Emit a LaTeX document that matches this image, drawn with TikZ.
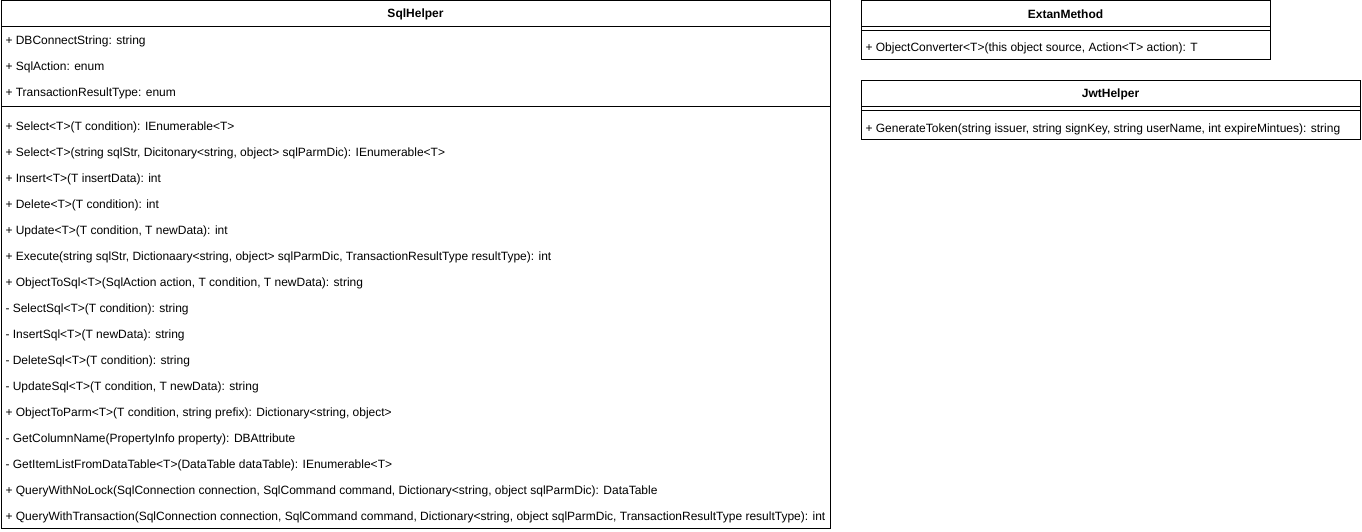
\documentclass[tikz,border=0pt]{standalone}
\usepackage{fontspec}
\setmainfont{Liberation Sans}
\usetikzlibrary{positioning}

\tikzset{
    member/.style={anchor=west, inner sep=0pt, yshift=-1pt, font=\fontsize{12}{14}\selectfont},
    classname/.style={inner sep=0pt, yshift=-0.5pt, font=\bfseries\fontsize{12}{14}\selectfont}
}

\begin{document}
\begin{tikzpicture}[x=1pt, y=-1pt, line width=1pt]
    \useasboundingbox (0,0) rectangle (1362,532);

    % SqlHelper
    \draw (1,1) rectangle (830,528);
    \draw (1,27) -- (830,27);
    \draw (1,107) -- (830,107);
    \node[classname] (sqlhelper) at (415.5,14) {SqlHelper};

    \foreach \txt [count=\i] in {{+ DBConnectString: string},
        {+ SqlAction: enum},
        {+ TransactionResultType: enum}}
    \node[member] (sqlattr\i) at (5,{40+26*(\i-1)}) {\txt};

    \foreach \txt [count=\i] in {{+ Select<T>(T condition): IEnumerable<T>},
        {+ Select<T>(string sqlStr, Dicitonary<string, object> sqlParmDic): IEnumerable<T>},
        {+ Insert<T>(T insertData): int},
        {+ Delete<T>(T condition): int},
        {+ Update<T>(T condition, T newData): int},
        {+ Execute(string sqlStr, Dictionaary<string, object> sqlParmDic, TransactionResultType resultType): int},
        {+ ObjectToSql<T>(SqlAction action, T condition, T newData): string},
        {- SelectSql<T>(T condition): string},
        {- InsertSql<T>(T newData): string},
        {- DeleteSql<T>(T condition): string},
        {- UpdateSql<T>(T condition, T newData): string},
        {+ ObjectToParm<T>(T condition, string prefix): Dictionary<string, object>},
        {- GetColumnName(PropertyInfo property): DBAttribute},
        {- GetItemListFromDataTable<T>(DataTable dataTable): IEnumerable<T>},
        {+ QueryWithNoLock(SqlConnection connection, SqlCommand command, Dictionary<string, object sqlParmDic): DataTable},
        {+ QueryWithTransaction(SqlConnection connection, SqlCommand command, Dictionary<string, object sqlParmDic, TransactionResultType resultType): int}}
    \node[member] (sqlop\i) at (5,{126+26*(\i-1)}) {\txt};

    % ExtanMethod
    \draw (861,1) rectangle (1270,60);
    \draw (861,27) -- (1270,27);
    \draw (861,31) -- (1270,31);
    \node[classname] (extanmethod) at (1065.5,14) {ExtanMethod};
    \node[member] (extanop1) at (865,47) {+ ObjectConverter<T>(this object source, Action<T> action): T};

    % JwtHelper
    \draw (861,81) rectangle (1360,140);
    \draw (861,107) -- (1360,107);
    \draw (861,111) -- (1360,111);
    \node[classname] (jwthelper) at (1110.5,94) {JwtHelper};
    \node[member] (jwtop1) at (865,128) {+ GenerateToken(string issuer, string signKey, string userName, int expireMintues): string};
\end{tikzpicture}
\end{document}
